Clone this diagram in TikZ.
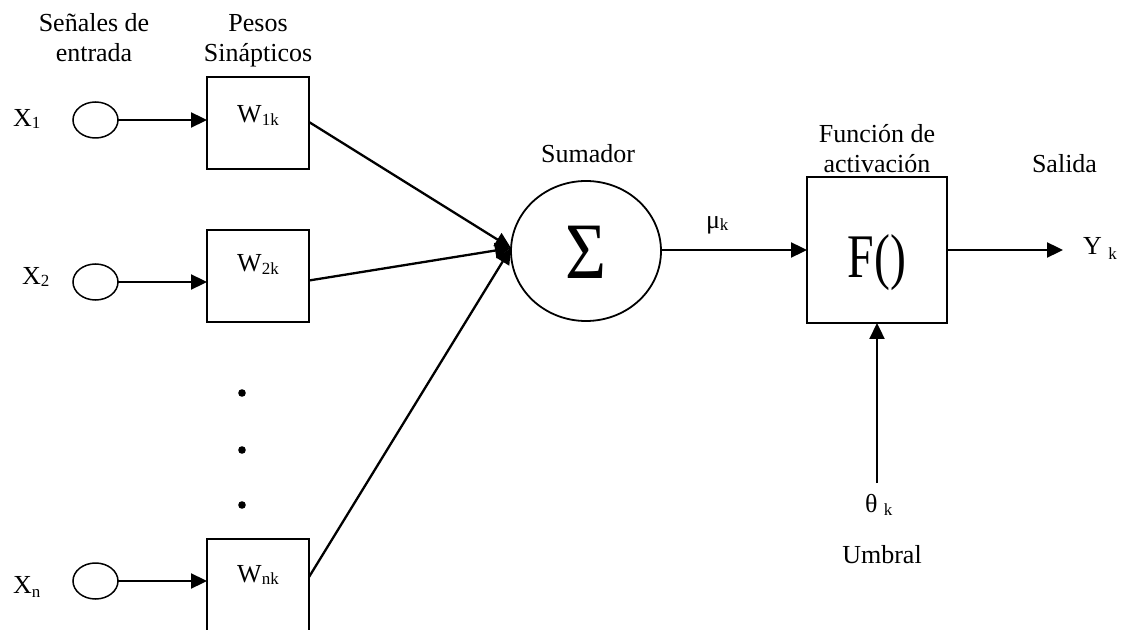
\documentclass[tikz,border=0pt]{standalone}
\usepackage{fontspec}
\setmainfont{Liberation Serif}
\usetikzlibrary{shapes.geometric,arrows.meta,calc}
\newcommand\lowsub[2][0.25ex]{\raisebox{-#1}{\fontsize{8.5}{8.5}\selectfont #2}}
\begin{document}
\begin{tikzpicture}[x=0.5pt,y=-0.5pt,
  every node/.style={inner sep=0pt,outer sep=0pt},
  txt/.style={font=\fontsize{13}{15}\selectfont,anchor=base},
  inp/.style={draw,ellipse,line width=0.75pt,minimum width=22.5pt,minimum height=18pt},
  wbox/.style={draw,rectangle,line width=1pt,minimum width=51pt,minimum height=46pt},
  conn/.style={line width=1.15pt,-{Triangle[length=8pt,width=7.5pt]}},
  dotmark/.style={circle,fill=black,minimum size=3.8pt}]
\useasboundingbox (0,0) rectangle (1123,630);
\clip (0,0) rectangle (1123,630);

% column headings
\node[txt] (hin1) at (94,32) {Señales de};
\node[txt] (hin2) at (94,62) {entrada};
\node[txt] (hw1) at (258,32) {Pesos};
\node[txt] (hw2) at (258,62) {Sinápticos};

% input signals
\node[txt,anchor=base west] (lx1) at (13,127) {X\lowsub[0.1ex]{1}};
\node[txt,anchor=base west] (lx2) at (22,285) {X\lowsub[0.1ex]{2}};
\node[txt,anchor=base west] (lxn) at (13,593) {X\lowsub[0.4ex]{n}};
\node[inp] (x1) at (95.5,120) {};
\node[inp] (x2) at (95.5,282) {};
\node[inp] (xn) at (95.5,581) {};

% synaptic weights
\node[wbox] (w1) at (258,123) {};
\node[wbox] (w2) at (258,276.5) {};
\node[wbox] (wn) at (258,585) {};
\node[txt] (w1t) at (258,123) {W\lowsub{1k}};
\node[txt] (w2t) at (258,272) {W\lowsub{2k}};
\node[txt] (wnt) at (258,582) {W\lowsub{nk}};

% ellipsis between the weights
\node[dotmark] (d1) at (242,393) {};
\node[dotmark] (d2) at (242,450) {};
\node[dotmark] (d3) at (242,505) {};

% summing junction
\node[txt] (sumlbl) at (588,163) {Sumador};
\node[draw,ellipse,line width=0.9pt,minimum width=75pt,minimum height=70pt] (sig) at (586,251) {};
\node[anchor=base,font=\fontsize{40}{40}\selectfont] (sigsym) at (586,279) {\scalebox{0.88}[1]{Σ}};
\coordinate (sin) at (511,248);

% activation function
\node[txt] (fa1) at (877,143) {Función de};
\node[txt] (fa2) at (877,173) {activación};
\node[draw,rectangle,line width=1pt,minimum width=70pt,minimum height=73pt] (fbox) at (877,250) {};
\node[anchor=base,font=\fontsize{31}{31}\selectfont] (ftxt) at (877,278) {\scalebox{0.77}[1]{F()}};

% output
\node[txt] (sal) at (1064.5,173) {Salida};
\coordinate (yend) at (1063,250);
\node[txt,anchor=base west] (yk) at (1083,255) {Y \lowsub[0.4ex]{k}};

% net input label
\node[txt,anchor=base west] (mu) at (706,229) {μ\lowsub[0.1ex]{k}};

% threshold
\coordinate (th) at (877,483);
\node[txt,anchor=base west] (thk) at (865,512) {θ \lowsub[0.3ex]{k}};
\node[txt] (umb) at (882,563) {Umbral};

% connectors
\draw[conn] (x1.east) -- (w1.west |- x1.east);
\draw[conn] (x2.east) -- (w2.west |- x2.east);
\draw[conn] (xn.east) -- (wn.west |- xn.east);
\draw[conn] ([yshift=0.5pt]w1.east) -- (sin);
\draw[conn] ([yshift=-2pt]w2.east) -- (sin);
\draw[conn] ([yshift=4pt]wn.east) -- (sin);
\draw[conn] (sig.east |- fbox.west) -- (fbox.west);
\draw[conn] (fbox.east) -- (yend);
\draw[conn] (th) -- (fbox.south);
\end{tikzpicture}
\end{document}
